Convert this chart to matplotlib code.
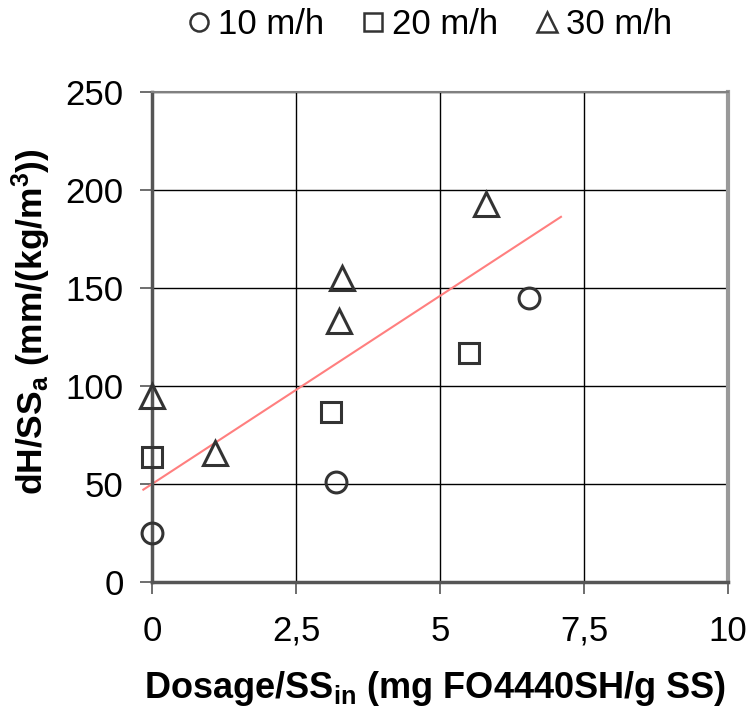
import matplotlib
matplotlib.use("Agg")
import matplotlib.pyplot as plt
import numpy as np
from matplotlib.lines import Line2D

plt.rcParams['font.family'] = ['Liberation Sans', 'DejaVu Sans']
plt.rcParams['mathtext.fontset'] = 'custom'
plt.rcParams['mathtext.rm'] = 'Liberation Sans:bold'
plt.rcParams['mathtext.bf'] = 'Liberation Sans:bold'
plt.rcParams['mathtext.it'] = 'Liberation Sans:bold'

# Data
x10 = [0.0, 3.2, 6.55]
y10 = [25, 51, 145]
x20 = [0.0, 3.1, 5.5]
y20 = [64, 87, 117]
x30 = [0.0, 1.1, 3.25, 3.3, 5.8]
y30 = [95, 66, 133, 155, 193]
trend_x = [-0.15, 7.1]
trend_slope = 19.2
trend_intercept = 50.0

series_labels = ['10 m/h', '20 m/h', '30 m/h']
xticks = [0, 2.5, 5, 7.5, 10]
xticklabels = ['0', '2,5', '5', '7,5', '10']
yticks = [0, 50, 100, 150, 200, 250]

fig = plt.figure(figsize=(7.52, 7.09), dpi=100)
ax = fig.add_axes([0.2021, 0.1791, 0.7660, 0.6911])

ax.set_xlim(0, 10)
ax.set_ylim(0, 250)
ax.set_xticks(xticks)
ax.set_xticklabels(xticklabels)
ax.set_yticks(yticks)
ax.grid(True, color='black', linewidth=1.0)
ax.set_axisbelow(True)

for s in ax.spines.values():
    s.set_color('#808080')
    s.set_linewidth(1.5)
ax.spines['left'].set_linewidth(2.5)
ax.spines['left'].set_color('#555555')
ax.spines['bottom'].set_linewidth(2.5)
ax.spines['bottom'].set_color('#555555')
ax.spines['right'].set_linewidth(3)
ax.spines['right'].set_color('#999999')

ax.tick_params(axis='both', labelsize=25, length=8.5, width=1.2, color='#555555')
ax.tick_params(axis='y', pad=12)
ax.tick_params(axis='x', pad=15)

tx = np.array(trend_x)
ax.plot(tx, trend_slope * tx + trend_intercept, color='#FF7F7F', linewidth=1.5, clip_on=False, zorder=2)

mk = dict(linestyle='none', markerfacecolor='none', markeredgecolor='#333333',
          markeredgewidth=2.2, clip_on=False, zorder=3)
ax.plot(x10, y10, marker='o', markersize=15, **mk)
ax.plot(x20, y20, marker='s', markersize=14.5, **mk)
ax.plot(x30, y30, marker='^', markersize=17, **mk)

ax.set_xlabel(r'Dosage/SS$_\mathrm{in}$ (mg FO4440SH/g SS)', fontsize=26, fontweight='bold')
ax.set_ylabel(r'dH/SS$_\mathrm{a}$ (mm/(kg/m$^\mathrm{3}$))', fontsize=25.5, fontweight='bold')
ax.xaxis.set_label_coords(0.491, -0.178)
ax.yaxis.set_label_coords(-0.172, 0.531)

handles = [
    Line2D([], [], marker='o', markersize=13, linestyle='none', markerfacecolor='none', markeredgecolor='#333333', markeredgewidth=1.8),
    Line2D([], [], marker='s', markersize=13, linestyle='none', markerfacecolor='none', markeredgecolor='#333333', markeredgewidth=1.8),
    Line2D([], [], marker='^', markersize=15, linestyle='none', markerfacecolor='none', markeredgecolor='#333333', markeredgewidth=1.8),
]
fig.legend(handles, series_labels, loc='upper center', bbox_to_anchor=(0.568, 1.033), ncol=3,
           frameon=False, fontsize=25, handletextpad=0.05, columnspacing=0.9, handlelength=1.0)

fig.savefig('out.png', dpi=100)
